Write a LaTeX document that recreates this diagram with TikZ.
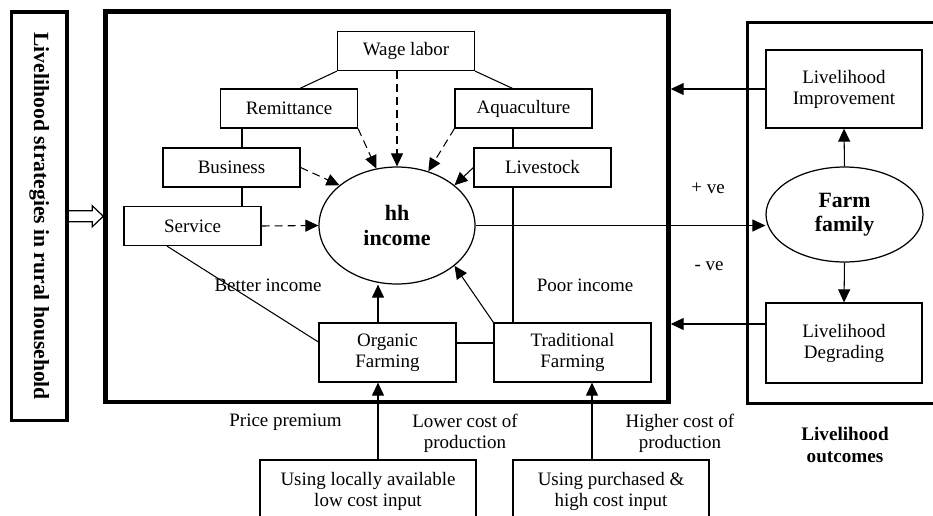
\documentclass[tikz,border=0pt]{standalone}
\usepackage{fontspec}
\setmainfont{Liberation Serif}
\usetikzlibrary{arrows.meta,shapes.geometric}

\begin{document}
\begin{tikzpicture}[x=0.02cm,y=-0.02cm,line width=0.6pt,
	font=\fontsize{10.8}{12}\selectfont,
	box/.style={draw,line width=0.7pt,minimum width=2.74cm,minimum height=0.78cm,inner sep=1pt,align=center},
	oval/.style={draw,ellipse,line width=0.7pt,inner sep=0pt,align=center,font=\bfseries\fontsize{12.5}{14.5}\selectfont},
	bigframe/.style={draw,inner sep=0pt},
	lbl/.style={inner sep=0pt,align=center},
	tip/.style={-{Triangle[length=0.26cm,width=0.24cm]}},
	dashtip/.style={tip,dash pattern=on 0.16cm off 0.1cm}]
	\useasboundingbox (0,0) rectangle (933,515);
	% frames
	\node (strategy) at (39.25,216.25)	[bigframe,line width=1.8pt,rotate=-90,minimum width=8.17cm,minimum height=1.11cm,font=\bfseries\fontsize{12.3}{14}\selectfont]	{Livelihood strategies in rural household};
	\node (hhbox) at (387,206.75)	[bigframe,line width=2.6pt,minimum width=11.26cm,minimum height=7.81cm]	{};
	\node (outbox) at (853.75,212.8)	[bigframe,line width=2pt,minimum width=4.25cm,minimum height=7.62cm]	{};
	% income sources
	\node (wage) at (406,51)	[box]	{Wage labor};
	\node (remit) at (289,108.5)	[box]	{Remittance};
	\node (aqua) at (523.5,108.5)	[box]	{Aquaculture};
	\node (business) at (231.5,167.5)	[box]	{Business};
	\node (live) at (542.5,167.5)	[box]	{Livestock};
	\node (service) at (192.5,226)	[box]	{Service};
	\node (hh) at (397,225.5)	[oval,minimum width=3.12cm,minimum height=2.34cm]	{hh\\income};
	\node (organic) at (387.5,352.5)	[box,minimum height=1.18cm]	{Organic\\Farming};
	\node (trad) at (572.5,352.5)	[box,minimum width=3.14cm,minimum height=1.18cm]	{Traditional\\Farming};
	\node (local) at (368,491)	[box,minimum width=4.32cm,minimum height=1.24cm]	{Using locally available\\low cost input};
	\node (purchase) at (611,491)	[box,minimum width=3.92cm,minimum height=1.24cm]	{Using purchased \&\\high cost input};
	% outcomes
	\node (improve) at (844,89)	[box,minimum width=3.12cm,minimum height=1.56cm]	{Livelihood\\Improvement};
	\node (farm) at (844.5,214.5)	[oval,minimum width=3.14cm,minimum height=1.9cm,font=\bfseries\fontsize{12.4}{13.7}\selectfont]	{Farm\\family};
	\node (degrade) at (844,343)	[box,minimum width=3.12cm,minimum height=1.6cm]	{Livelihood\\Degrading};
	% labels
	\node (better) at (268,285)	[lbl]	{Better income};
	\node (poor) at (585,285)	[lbl]	{Poor income};
	\node (premium) at (285.5,422)	[lbl]	{Price premium};
	\node (lower) at (465,433)	[lbl]	{Lower cost of\\production};
	\node (higher) at (680,433)	[lbl]	{Higher cost of\\production};
	\node (outcome) at (845,445)	[lbl,font=\bfseries\fontsize{10.9}{12.5}\selectfont]	{Livelihood\\outcomes};
	\node (plus) at (708,188)	[lbl]	{+ ve};
	\node (minus) at (709,266)	[lbl]	{- ve};
	% hollow arrow
	\coordinate (arrA) at (strategy.north);
	\coordinate (arrB) at (hhbox.west |- strategy.north);
	\draw[line width=0.7pt] ([yshift=0.11cm]arrA) -- ([xshift=-0.22cm,yshift=0.11cm]arrB) -- ([xshift=-0.22cm,yshift=0.21cm]arrB) -- (arrB)
		-- ([xshift=-0.22cm,yshift=-0.21cm]arrB) -- ([xshift=-0.22cm,yshift=-0.11cm]arrB) -- ([yshift=-0.11cm]arrA);
	% links between sources
	\draw (wage.south west) -- ([xshift=0.22cm]remit.north);
	\draw (wage.south east) -- ([xshift=-0.22cm]aqua.north);
	\draw ([xshift=-0.94cm]remit.south) coordinate (rb) -- (rb |- business.north);
	\draw (rb |- business.south) -- (rb |- service.north);
	\draw ([xshift=-0.21cm]aqua.south) coordinate (al) -- (al |- live.north);
	\draw (al |- live.south) -- (al |- trad.north);
	\draw ([xshift=-0.51cm]service.south) -- ([yshift=0.21cm]organic.west);
	\draw ([yshift=0.19cm]organic.east) -- ([yshift=0.19cm]organic.east -| trad.west);
	% into hh income
	\draw[dashtip] (hh.north |- wage.south) -- (hh.north);
	\draw[dashtip] (remit.south east) -- (hh.110);
	\draw[dashtip] (aqua.south west) -- (hh.60);
	\draw[dashtip] (business.east) -- (hh.145);
	\draw[dashtip] (service.east) -- (hh.west);
	\draw[tip] (live.west) -- (hh.35);
	\draw[tip] ([xshift=-0.19cm]organic.north) -- ([xshift=-0.19cm]organic.north |- hh.south);
	\draw[tip] (trad.north west) -- (hh.-35);
	\draw[tip] ([xshift=-0.19cm]organic.south |- local.north) -- ([xshift=-0.19cm]organic.south);
	\draw[tip] ([xshift=0.39cm]trad.south |- purchase.north) -- ([xshift=0.39cm]trad.south);
	% outcomes
	\draw[tip] (hh.east) -- (hh.east -| farm.west);
	\draw[tip] (farm.north) -- (improve.south);
	\draw[tip] (farm.south) -- (degrade.north);
	\draw[tip] (improve.west) -- (improve.west -| hhbox.east);
	\draw[tip] ([yshift=0.38cm]degrade.west) -- ([yshift=0.38cm]degrade.west -| hhbox.east);
\end{tikzpicture}
\end{document}
